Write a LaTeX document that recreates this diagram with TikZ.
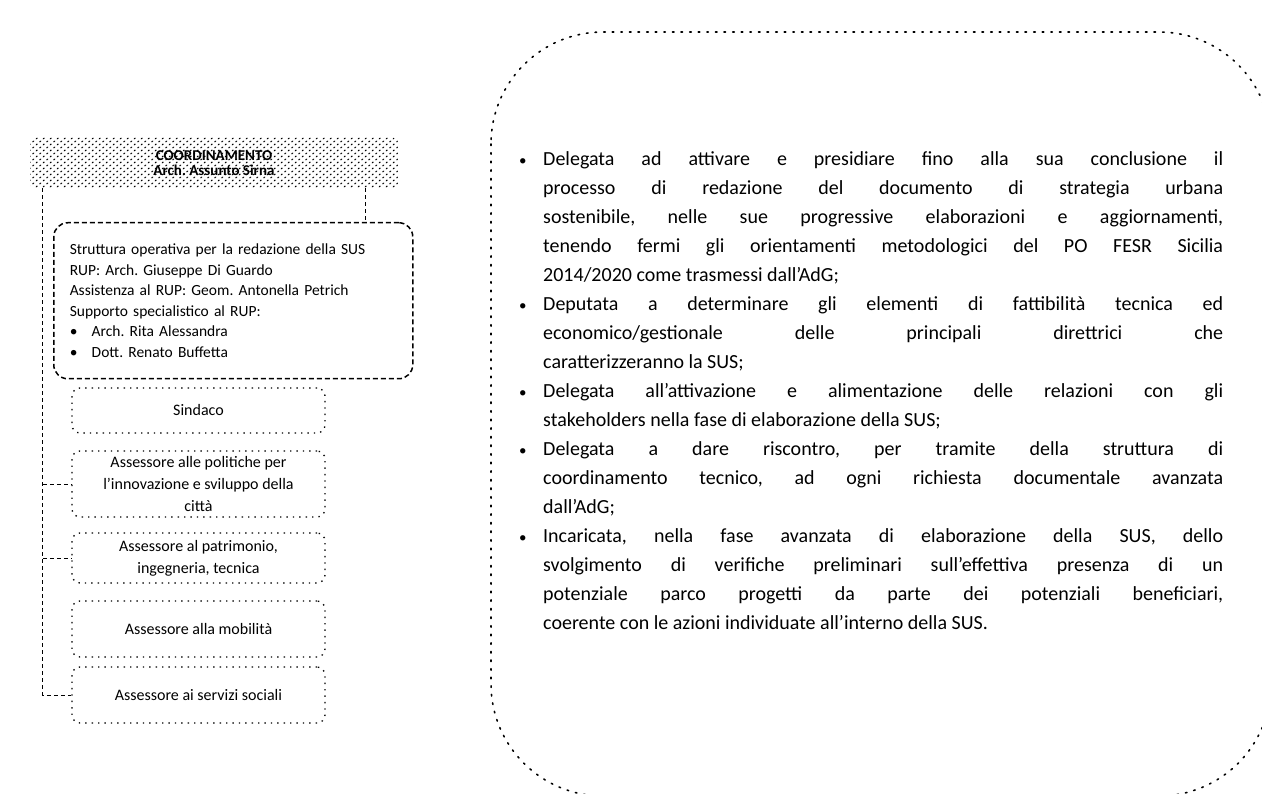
\documentclass[tikz,border=0pt]{standalone}
\usepackage{fontspec}
\setmainfont{Carlito}
\usepackage{enumitem}
\usetikzlibrary{patterns}
\frenchspacing

% coarse dot hatching of the title box
\pgfdeclarepatternformonly{coarse dots}{\pgfpoint{-1pt}{-1pt}}{\pgfpoint{8pt}{8pt}}{\pgfpoint{7pt}{6pt}}{%
  \pgfpathellipse{\pgfpoint{1.7pt}{1.5pt}}{\pgfpoint{1.1pt}{0.5pt}}{\pgfpoint{0pt}{0.8pt}}%
  \pgfpathellipse{\pgfpoint{5.2pt}{4.5pt}}{\pgfpoint{1.1pt}{0.5pt}}{\pgfpoint{0pt}{0.8pt}}%
  \pgfusepath{fill}}

\begin{document}
\begin{tikzpicture}[x=1pt, y=-1pt,
titlebox/.style={rounded corners=4pt, pattern=coarse dots, minimum width=368pt, minimum height=50pt, align=center, inner sep=0, font=\bfseries\fontsize{15}{15.5}\selectfont},
strutbox/.style={draw, rounded corners=14pt, dash pattern=on 5pt off 3pt, line width=1.5pt, minimum width=359pt, minimum height=156pt, text width=327pt, inner xsep=16pt, align=left, font=\fontsize{15.5}{20.5}\selectfont},
smallbox/.style={draw, rounded corners=8pt, dash pattern=on 1.4pt off 5pt, line width=1.3pt, minimum width=253pt, align=center, font=\fontsize{16}{22}\selectfont},
link/.style={dash pattern=on 4pt off 3pt, line width=1pt},
bigbox/.style={dash pattern=on 1.6pt off 7pt, line width=1.6pt, line cap=round, rounded corners=112pt}]

% SIZE OF THE PICTURE
\useasboundingbox (0,0) rectangle (1262,794);
\clip (0,0) rectangle (1262,794);

%%%%%%%%% LEFT COLUMN %%%%%%%%%%%%%
\node[titlebox] (coord) at (214,163) {COORDINAMENTO\\Arch. Assunto Sirna};
\node[strutbox, anchor=north west] (struttura) at (53,222) {Struttura operativa per la redazione della SUS\\
RUP: Arch. Giuseppe Di Guardo\\
Assistenza al RUP: Geom. Antonella Petrich\\
Supporto specialistico al RUP:\\
\makebox[22pt][l]{\textbullet}Arch. Rita Alessandra\\
\makebox[22pt][l]{\textbullet}Dott. Renato Buffetta};

\node[smallbox, minimum height=45pt] (sindaco) at (198.5,410.5) {Sindaco};
\node[smallbox, minimum height=66pt] (innov) at (198.5,484) {Assessore alle politiche per\\l’innovazione e sviluppo della\\città};
\node[smallbox, minimum height=50pt] (patrim) at (198.5,558) {Assessore al patrimonio,\\ingegneria, tecnica};
\node[smallbox, minimum height=56pt] (mobil) at (198.5,629) {Assessore alla mobilità};
\node[smallbox, minimum height=56pt] (servizi) at (198.5,695) {Assessore ai servizi sociali};

% CONNECTORS
\draw[link] ([xshift=13pt]coord.south west) |- (servizi.west);
\draw[link] ([xshift=13pt]coord.south west |- innov.west) -- (innov.west);
\draw[link] ([xshift=13pt]coord.south west |- patrim.west) -- (patrim.west);
\draw[link] ([xshift=-33pt]coord.south east) -- ([xshift=-33pt]coord.south east |- struttura.north);

%%%%%%%%% RIGHT BOX %%%%%%%%%%%%%
\draw[bigbox] (491,32) rectangle (1271,796);
\node[anchor=base west, inner sep=0] (compiti) at (519,166) {\begin{minipage}[t]{704pt}
\fontsize{20}{29}\selectfont\hyphenpenalty=10000
\begin{itemize}[label=\scalebox{0.75}{\textbullet}, align=left, labelwidth=10pt, labelsep=14pt, leftmargin=24pt, itemsep=0pt, topsep=0pt, parsep=0pt, partopsep=0pt]
\item Delegata ad attivare e presidiare fino alla sua conclusione il\linebreak processo di redazione del documento di strategia urbana\linebreak sostenibile, nelle sue progressive elaborazioni e aggiornamenti,\linebreak tenendo fermi gli orientamenti metodologici del PO FESR Sicilia\linebreak 2014/2020 come trasmessi dall’AdG;
\item Deputata a determinare gli elementi di fattibilità tecnica ed\linebreak economico/gestionale delle principali direttrici che\linebreak caratterizzeranno la SUS;
\item Delegata all’attivazione e alimentazione delle relazioni con gli\linebreak stakeholders nella fase di elaborazione della SUS;
\item Delegata a dare riscontro, per tramite della struttura di\linebreak coordinamento tecnico, ad ogni richiesta documentale avanzata\linebreak dall’AdG;
\item Incaricata, nella fase avanzata di elaborazione della SUS, dello\linebreak svolgimento di verifiche preliminari sull’effettiva presenza di un\linebreak potenziale parco progetti da parte dei potenziali beneficiari,\linebreak coerente con le azioni individuate all’interno della SUS.
\end{itemize}
\end{minipage}};
\end{tikzpicture}
\end{document}
